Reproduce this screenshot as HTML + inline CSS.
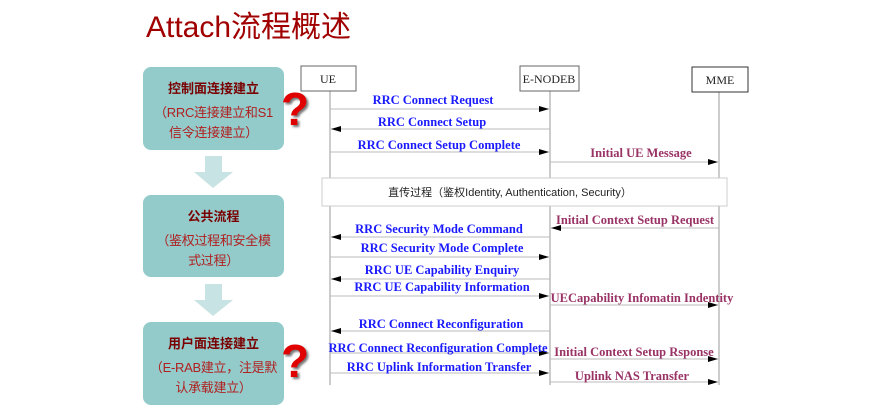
<!DOCTYPE html><html><head><meta charset="utf-8"><style>
body{margin:0;width:892px;height:417px;background:#fff;position:relative;overflow:hidden;font-family:"Liberation Sans","Noto Sans CJK SC",sans-serif}
.t{position:absolute;left:146px;top:2px;font-size:30px;color:#a00000;white-space:nowrap}
.b{position:absolute;left:143px;width:141px;background:#93cbcb;border-radius:8px;text-align:center;color:#a00000}
.b .h{font-weight:bold;font-size:13px;margin-top:11px;color:#7a0000}
.b .s{font-size:13px;line-height:20px;margin-top:6px;color:#b02020;white-space:nowrap;letter-spacing:-0.3px}
.q{position:absolute;font-size:46px;font-weight:bold;color:#e00000;text-shadow:2px 2px 2px #777;font-family:"Liberation Sans",sans-serif}
svg{position:absolute;left:0;top:0}
</style></head><body>
<div class="t">Attach流程概述</div>
<div class="b" style="top:67px;height:83px"><div class="h">控制面连接建立</div><div class="s">（RRC连接建立和S1<br>信令连接建立）</div></div>
<div class="b" style="top:195px;height:82px"><div class="h">公共流程</div><div class="s">（鉴权过程和安全模<br>式过程）</div></div>
<div class="b" style="top:322px;height:83px"><div class="h">用户面连接建立</div><div class="s">（E-RAB建立，注是默<br>认承载建立）</div></div>
<div class="q" style="left:281px;top:82px">?</div>
<div class="q" style="left:281px;top:334px">?</div>
<svg width="892" height="417" font-family="Liberation Serif,serif" font-weight="bold" font-size="12.5">
<defs><marker id="a" markerWidth="10" markerHeight="6" refX="10" refY="3" orient="auto" markerUnits="userSpaceOnUse"><path d="M0,0L10,3L0,6z" fill="#000"/></marker></defs>
<polygon points="205,156 222,156 222,172 233,172 213,188 194,172 205,172" fill="#c8e3e3"/>
<polygon points="205,284 222,284 222,300 233,300 213,316 194,300 205,300" fill="#c8e3e3"/>
<g stroke="#999" fill="none"><line x1="330" y1="91" x2="330" y2="385"/><line x1="550" y1="91" x2="550" y2="385"/><line x1="719" y1="92" x2="719" y2="385"/></g>
<g fill="#fff" stroke="#666"><rect x="301" y="66" width="55" height="25"/><rect x="520" y="66" width="59" height="25"/><rect x="692" y="67" width="56" height="25" stroke="#333"/></g>
<g font-weight="normal" font-size="12" text-anchor="middle" fill="#222"><text x="328" y="83">UE</text><text x="549" y="83">E-NODEB</text><text x="720" y="84">MME</text></g>
<rect x="322" y="178" width="405" height="28" fill="#fff" stroke="#ccc"/>
<text x="510" y="196" font-family="Liberation Sans,Noto Sans CJK SC,sans-serif" font-weight="normal" font-size="11" text-anchor="middle" fill="#222">直传过程（鉴权Identity, Authentication, Security）</text>
<g stroke="#bbb" marker-end="url(#a)">
<line x1="330" y1="109" x2="549" y2="109"/><line x1="550" y1="129" x2="331" y2="129"/><line x1="330" y1="152" x2="549" y2="152"/><line x1="550" y1="162" x2="718" y2="162"/>
<line x1="719" y1="228" x2="551" y2="228"/><line x1="550" y1="237" x2="331" y2="237"/><line x1="330" y1="257" x2="549" y2="257"/><line x1="550" y1="279" x2="331" y2="279"/><line x1="330" y1="296" x2="549" y2="296"/><line x1="550" y1="305" x2="718" y2="305"/>
<line x1="550" y1="331" x2="331" y2="331"/><line x1="330" y1="353" x2="549" y2="353"/><line x1="550" y1="359" x2="718" y2="359"/><line x1="330" y1="373" x2="549" y2="373"/><line x1="550" y1="382" x2="718" y2="382"/>
</g>
<g fill="#1a1aff" text-anchor="middle">
<text x="433" y="104">RRC Connect Request</text><text x="432" y="126">RRC Connect Setup</text><text x="439" y="149">RRC Connect Setup Complete</text>
<text x="439" y="233">RRC Security Mode Command</text><text x="442" y="252">RRC Security Mode Complete</text><text x="442" y="274">RRC UE Capability Enquiry</text><text x="442" y="291">RRC UE Capability Information</text><text x="441" y="328">RRC Connect Reconfiguration</text><text x="438" y="352">RRC Connect Reconfiguration Complete</text><text x="439" y="371">RRC Uplink Information Transfer</text>
</g>
<g fill="#993366" text-anchor="middle">
<text x="641" y="157">Initial UE Message</text><text x="635" y="224">Initial Context Setup Request</text><text x="642" y="302">UECapability Infomatin Indentity</text><text x="634" y="356">Initial Context Setup Rsponse</text><text x="632" y="380">Uplink NAS Transfer</text>
</g>
</svg>
</body></html>
